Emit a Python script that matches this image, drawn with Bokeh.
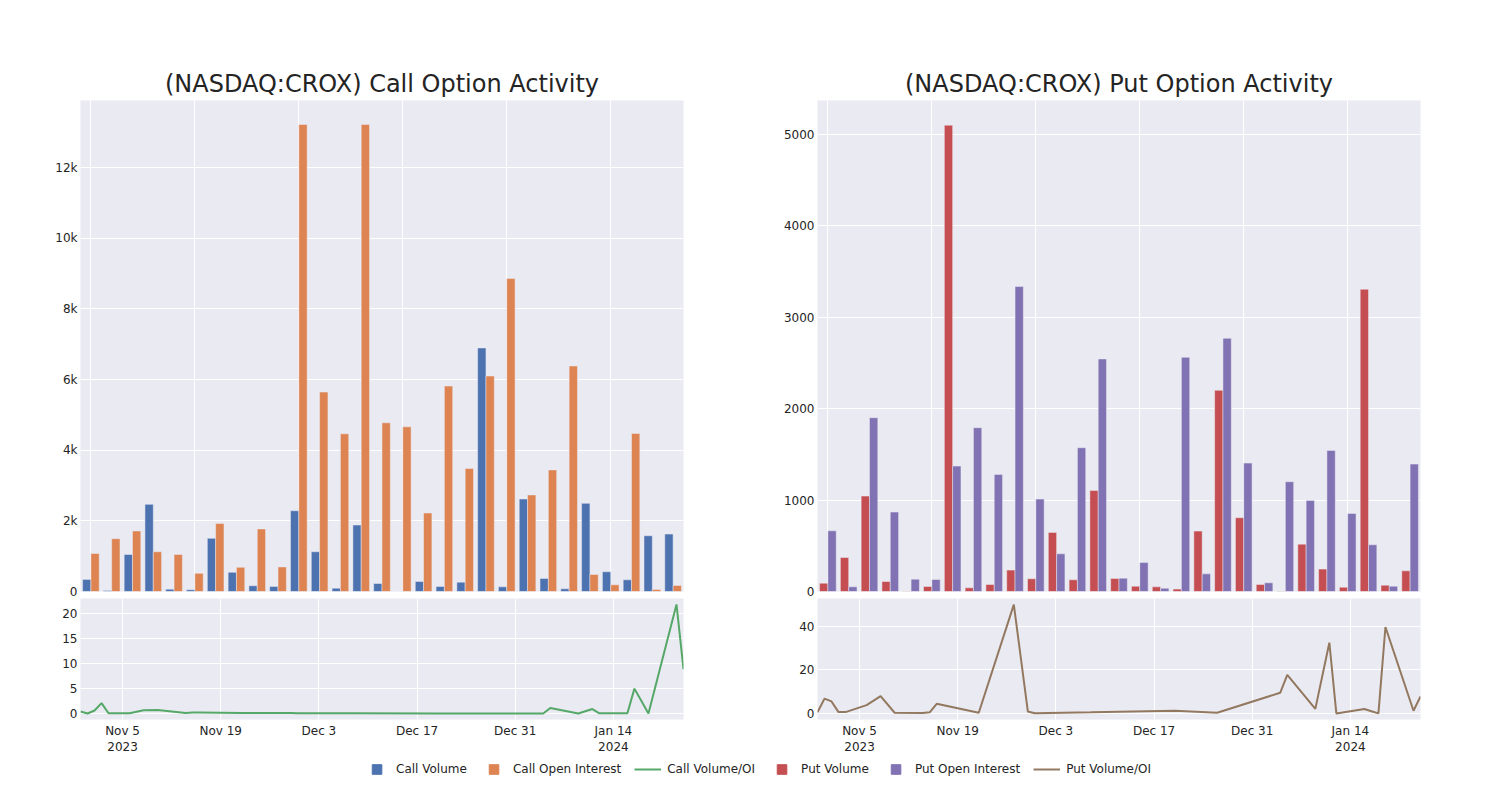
import pandas as pd
from bokeh.plotting import figure
from bokeh.models import (Range1d, FixedTicker, NumeralTickFormatter, Legend,
                          LegendItem, ColumnDataSource)
from bokeh.layouts import column, row
from bokeh.transform import dodge
from bokeh.embed import file_html
from bokeh.resources import INLINE

# ---------------- data ----------------
dates = ["2023-10-30", "2023-10-31", "2023-11-01", "2023-11-02", "2023-11-03",
         "2023-11-06", "2023-11-08", "2023-11-10", "2023-11-14", "2023-11-15",
         "2023-11-16", "2023-11-22", "2023-11-27", "2023-11-29", "2023-11-30",
         "2023-12-08", "2023-12-20", "2023-12-26", "2024-01-04", "2024-01-05",
         "2024-01-09", "2024-01-11", "2024-01-12", "2024-01-16", "2024-01-17",
         "2024-01-18", "2024-01-19", "2024-01-23", "2024-01-24"]

call_volume = [343, 29, 1048, 2467, 67, 48, 1505, 543, 162, 143,
               2286, 1125, 95, 1882, 227, 0, 284, 142, 265, 6894,
               132, 2619, 369, 76, 2496, 558, 331, 1579, 1626]
call_open_interest = [1076, 1495, 1714, 1124, 1048, 514, 1924, 686, 1771, 695,
                      13220, 5645, 4463, 13220, 4775, 4662, 2222, 5816, 3480, 6099,
                      8860, 2733, 3442, 6383, 482, 189, 4473, 57, 170]
call_vol_oi = [0.4, 0.0, 0.6, 2.1, 0.05, 0.05, 0.65, 0.7, 0.1, 0.2,
               0.2, 0.1, 0.1, 0.1, 0.05, 0.05, 0.03, 0.03, 0.0, 1.1,
               0.0, 0.9, 0.05, 0.05, 5.0, 2.5, 0.0, 21.9, 8.9]

put_volume = [91, 372, 1044, 109, 3, 55, 5102, 40, 77, 234,
              139, 646, 128, 1106, 142, 58, 51, 26, 661, 2201,
              807, 77, 4, 518, 245, 47, 3307, 69, 226]
put_open_interest = [664, 51, 1901, 869, 135, 131, 1372, 1792, 1281, 3336,
                     1011, 412, 1573, 2544, 146, 318, 36, 2562, 193, 2770,
                     1405, 95, 1201, 996, 1544, 854, 511, 58, 1394]
put_vol_oi = [0.5, 6.8, 5.5, 0.6, 0.6, 3.8, 7.9, 0.3, 0.15, 0.5,
              4.4, 0.3, 50.0, 0.9, 0.1, 0.5, 1.2, 0.3, 9.5, 17.7,
              2.1, 32.5, 0.0, 2.0, 1.0, 0.0, 39.7, 1.2, 7.8]

tick_dates = ["2023-11-05", "2023-11-19", "2023-12-03", "2023-12-17", "2023-12-31", "2024-01-14"]
tick_labels = ["Nov 5\n2023", "Nov 19", "Dec 3", "Dec 17", "Dec 31", "Jan 14\n2024"]

call_bar_ticks = [0, 2000, 4000, 6000, 8000, 10000, 12000]
put_bar_ticks = [0, 1000, 2000, 3000, 4000, 5000]
call_line_ticks = [0, 5, 10, 15, 20]
put_line_ticks = [0, 20, 40]

# ---------------- style ----------------
BG = "#EAEAF2"
TXT = "#242424"
FONT = "DejaVu Sans"
C_BLUE, C_ORANGE, C_GREEN = "#4C72B0", "#DD8452", "#55A868"
C_RED, C_PURPLE, C_BROWN = "#C44E52", "#8172B3", "#937860"

dt = pd.to_datetime(dates)
n = len(dates)
src = ColumnDataSource(dict(
    idx=list(range(n)), date=dt,
    call_volume=call_volume, call_oi=call_open_interest, call_ratio=call_vol_oi,
    put_volume=put_volume, put_oi=put_open_interest, put_ratio=put_vol_oi))

tick_ms = [float(pd.Timestamp(d).value // 10**6) for d in tick_dates]
overrides = {t: l for t, l in zip(tick_ms, tick_labels)}


def style(p):
    p.background_fill_color = BG
    p.border_fill_color = "white"
    p.outline_line_color = None
    p.grid.grid_line_color = "white"
    p.grid.grid_line_width = 1
    p.axis.axis_line_color = None
    p.axis.major_tick_line_color = None
    p.axis.minor_tick_line_color = None
    p.axis.major_tick_out = 0
    p.axis.major_tick_in = 0
    p.axis.minor_tick_out = 0
    p.axis.major_label_text_font = FONT
    p.axis.major_label_text_font_size = "12px"
    p.axis.major_label_text_color = TXT
    p.yaxis.major_label_standoff = 3
    p.xaxis.major_label_standoff = 4


def bar_fig(title, ymax, ticks, fmt, left, right, vol_key, oi_key, c1, c2):
    p = figure(width=left + 603 + right, height=100 + 491 + 7, output_backend="svg",
               toolbar_location=None, x_range=Range1d(-0.5, n - 0.5),
               y_range=Range1d(0, ymax), min_border_left=left, min_border_right=right,
               min_border_top=100, min_border_bottom=7, title=title)
    style(p)
    p.title.text_font = FONT
    p.title.text_font_size = "24px"
    p.title.text_font_style = "normal"
    p.title.text_color = TXT
    p.title.align = "center"
    p.title.standoff = 6
    p.xaxis.visible = False
    p.xgrid.ticker = FixedTicker(ticks=[0, 5, 10, 15, 20, 25])
    p.yaxis.ticker = FixedTicker(ticks=ticks)
    if fmt:
        p.yaxis.formatter = NumeralTickFormatter(format=fmt)
    p.vbar(x=dodge("idx", -0.2, range=p.x_range), top=vol_key, width=0.4, source=src,
           fill_color=c1, line_color=BG, line_width=0.5)
    p.vbar(x=dodge("idx", 0.2, range=p.x_range), top=oi_key, width=0.4, source=src,
           fill_color=c2, line_color=BG, line_width=0.5)
    return p


def line_fig(yr, ticks, left, right, key, color):
    p = figure(width=left + 603 + right, height=123 + 36, output_backend="svg",
               toolbar_location=None, x_axis_type="datetime",
               x_range=Range1d(dt[0], dt[-1]), y_range=Range1d(*yr),
               min_border_left=left, min_border_right=right,
               min_border_top=0, min_border_bottom=36)
    style(p)
    p.xaxis.ticker = FixedTicker(ticks=tick_ms)
    p.xaxis.major_label_overrides = overrides
    p.yaxis.ticker = FixedTicker(ticks=ticks)
    p.line(x="date", y=key, source=src, line_color=color, line_width=2)
    return p


call_bar = bar_fig("(NASDAQ:CROX) Call Option Activity", 13900, call_bar_ticks, "0a",
                   80, 67, "call_volume", "call_oi", C_BLUE, C_ORANGE)
call_line = line_fig((-1.2, 23.1), call_line_ticks, 80, 67, "call_ratio", C_GREEN)
put_bar = bar_fig("(NASDAQ:CROX) Put Option Activity", 5372, put_bar_ticks, None,
                  67, 60, "put_volume", "put_oi", C_RED, C_PURPLE)
put_line = line_fig((-2.8, 52.8), put_line_ticks, 67, 60, "put_ratio", C_BROWN)

# ---------------- legend ----------------
leg = figure(width=1480, height=24, output_backend="svg", toolbar_location=None,
             x_range=Range1d(0, 1), y_range=Range1d(0, 1), min_border=0,
             min_border_left=34)
leg.axis.visible = False
leg.grid.visible = False
leg.outline_line_color = None
leg.background_fill_color = "white"
hx, hy = [-10], [-10]  # placeholder glyphs outside the visible range (legend swatches only)
g1 = leg.scatter(hx, hy, marker="square", color=C_BLUE)
g2 = leg.scatter(hx, hy, marker="square", color=C_ORANGE)
g3 = leg.line(hx, hy, line_color=C_GREEN, line_width=2)
g4 = leg.scatter(hx, hy, marker="square", color=C_RED)
g5 = leg.scatter(hx, hy, marker="square", color=C_PURPLE)
g6 = leg.line(hx, hy, line_color=C_BROWN, line_width=2)
legend = Legend(items=[
    LegendItem(label="Call Volume", renderers=[g1]),
    LegendItem(label="Call Open Interest", renderers=[g2]),
    LegendItem(label="Call Volume/OI", renderers=[g3]),
    LegendItem(label="Put Volume", renderers=[g4]),
    LegendItem(label="Put Open Interest", renderers=[g5]),
    LegendItem(label="Put Volume/OI", renderers=[g6]),
], orientation="horizontal", location="center", border_line_color=None,
    background_fill_alpha=0, margin=0, padding=0, spacing=13,
    label_standoff=6, glyph_width=27, glyph_height=24,
    label_text_font=FONT, label_text_font_size="12px", label_text_color=TXT)
leg.add_layout(legend, "center")

layout = column(row(column(call_bar, call_line), column(put_bar, put_line)), leg)

open("out.html", "w").write(file_html(layout, INLINE))
